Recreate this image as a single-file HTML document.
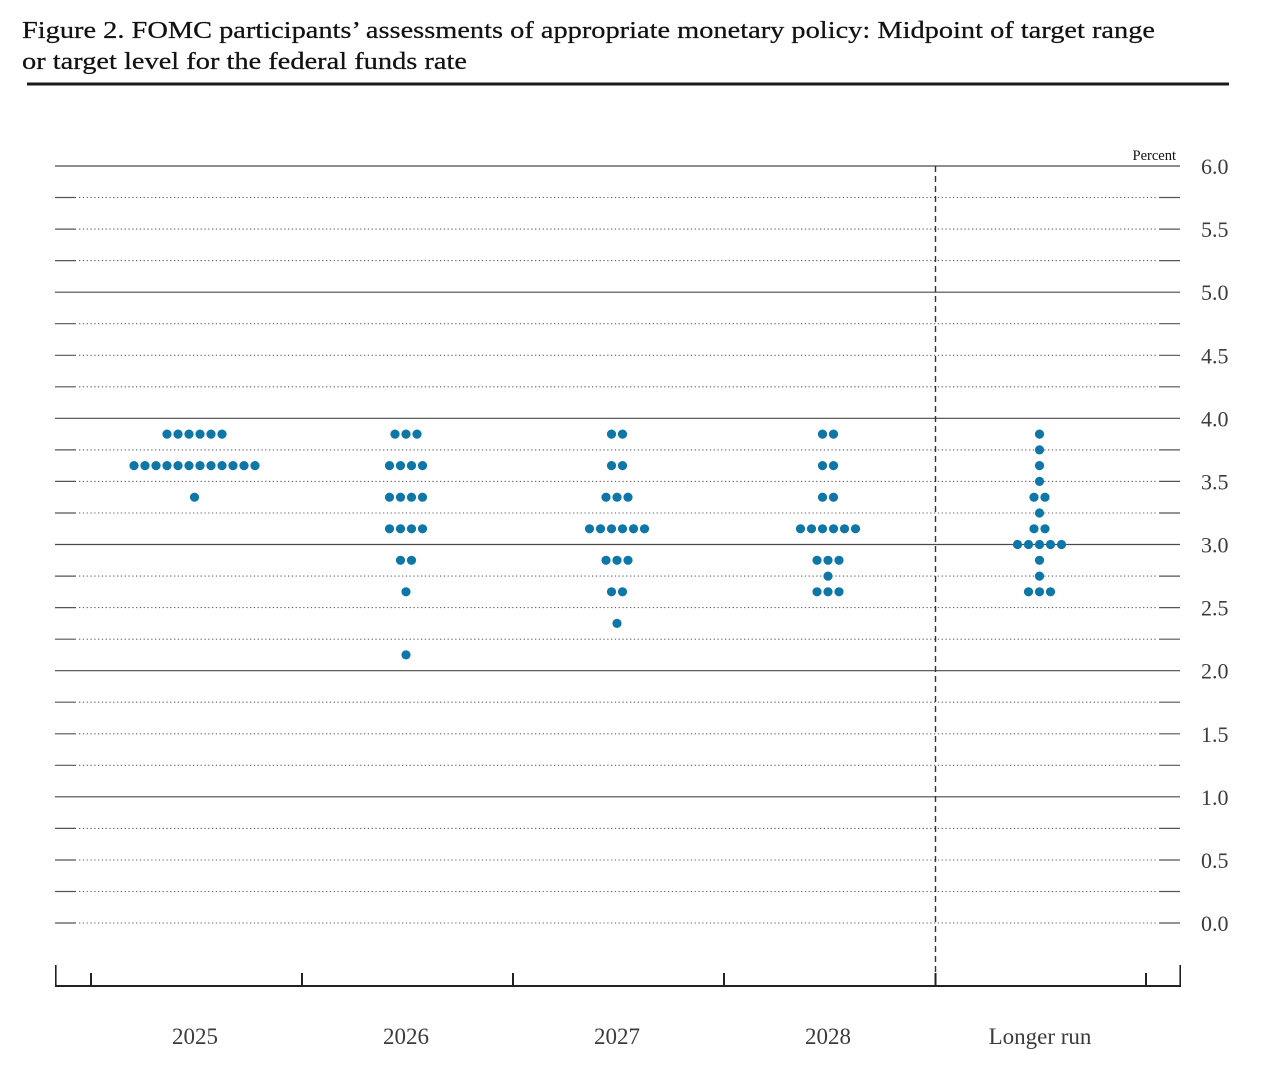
<!DOCTYPE html>
<html>
<head>
<meta charset="utf-8">
<style>
  html,body{margin:0;padding:0;background:#fff;}
  svg{display:block;}
  .t{font-family:"Liberation Serif",serif;}
</style>
</head>
<body>
<svg width="1280" height="1074" viewBox="0 0 1280 1074" xmlns="http://www.w3.org/2000/svg">
  <rect width="1280" height="1074" fill="#fff"/>
  <!-- Title -->
  <text class="t" x="22" y="38" font-size="24" fill="#111" stroke="#111" stroke-width="0.25" textLength="1133" lengthAdjust="spacingAndGlyphs">Figure 2. FOMC participants’ assessments of appropriate monetary policy: Midpoint of target range</text>
  <text class="t" x="22" y="69" font-size="24" fill="#111" stroke="#111" stroke-width="0.25" textLength="445" lengthAdjust="spacingAndGlyphs">or target level for the federal funds rate</text>
  <rect x="27" y="82.5" width="1202" height="3" fill="#1a1a1a"/>

  <!-- Percent label -->
  <text class="t" x="1176" y="160" font-size="14.5" fill="#111" text-anchor="end">Percent</text>

  <!-- Solid whole-number lines -->
  <g stroke="#4a4a4a" stroke-width="1.2">
    <line x1="55" y1="166" x2="1180" y2="166"/>
    <line x1="55" y1="292.2" x2="1180" y2="292.2"/>
    <line x1="55" y1="418.3" x2="1180" y2="418.3"/>
    <line x1="55" y1="544.5" x2="1180" y2="544.5"/>
    <line x1="55" y1="670.7" x2="1180" y2="670.7"/>
    <line x1="55" y1="796.8" x2="1180" y2="796.8"/>
  </g>

  <!-- Dotted lines -->
  <g stroke="#666" stroke-width="1.1" stroke-dasharray="1.3 2.5">
    <line x1="79" y1="197.5" x2="1157" y2="197.5"/>
    <line x1="79" y1="229.1" x2="1157" y2="229.1"/>
    <line x1="79" y1="260.6" x2="1157" y2="260.6"/>
    <line x1="79" y1="323.7" x2="1157" y2="323.7"/>
    <line x1="79" y1="355.3" x2="1157" y2="355.3"/>
    <line x1="79" y1="386.8" x2="1157" y2="386.8"/>
    <line x1="79" y1="449.9" x2="1157" y2="449.9"/>
    <line x1="79" y1="481.4" x2="1157" y2="481.4"/>
    <line x1="79" y1="513.0" x2="1157" y2="513.0"/>
    <line x1="79" y1="576.1" x2="1157" y2="576.1"/>
    <line x1="79" y1="607.6" x2="1157" y2="607.6"/>
    <line x1="79" y1="639.2" x2="1157" y2="639.2"/>
    <line x1="79" y1="702.2" x2="1157" y2="702.2"/>
    <line x1="79" y1="733.8" x2="1157" y2="733.8"/>
    <line x1="79" y1="765.3" x2="1157" y2="765.3"/>
    <line x1="79" y1="828.4" x2="1157" y2="828.4"/>
    <line x1="79" y1="860.0" x2="1157" y2="860.0"/>
    <line x1="79" y1="891.5" x2="1157" y2="891.5"/>
    <line x1="79" y1="923.0" x2="1157" y2="923.0"/>
  </g>

  <!-- Short ticks on dotted lines -->
  <g stroke="#555" stroke-width="1.2">
    <line x1="55" y1="197.5" x2="76" y2="197.5"/><line x1="1159" y1="197.5" x2="1180" y2="197.5"/>
    <line x1="55" y1="229.1" x2="76" y2="229.1"/><line x1="1159" y1="229.1" x2="1180" y2="229.1"/>
    <line x1="55" y1="260.6" x2="76" y2="260.6"/><line x1="1159" y1="260.6" x2="1180" y2="260.6"/>
    <line x1="55" y1="323.7" x2="76" y2="323.7"/><line x1="1159" y1="323.7" x2="1180" y2="323.7"/>
    <line x1="55" y1="355.3" x2="76" y2="355.3"/><line x1="1159" y1="355.3" x2="1180" y2="355.3"/>
    <line x1="55" y1="386.8" x2="76" y2="386.8"/><line x1="1159" y1="386.8" x2="1180" y2="386.8"/>
    <line x1="55" y1="449.9" x2="76" y2="449.9"/><line x1="1159" y1="449.9" x2="1180" y2="449.9"/>
    <line x1="55" y1="481.4" x2="76" y2="481.4"/><line x1="1159" y1="481.4" x2="1180" y2="481.4"/>
    <line x1="55" y1="513.0" x2="76" y2="513.0"/><line x1="1159" y1="513.0" x2="1180" y2="513.0"/>
    <line x1="55" y1="576.1" x2="76" y2="576.1"/><line x1="1159" y1="576.1" x2="1180" y2="576.1"/>
    <line x1="55" y1="607.6" x2="76" y2="607.6"/><line x1="1159" y1="607.6" x2="1180" y2="607.6"/>
    <line x1="55" y1="639.2" x2="76" y2="639.2"/><line x1="1159" y1="639.2" x2="1180" y2="639.2"/>
    <line x1="55" y1="702.2" x2="76" y2="702.2"/><line x1="1159" y1="702.2" x2="1180" y2="702.2"/>
    <line x1="55" y1="733.8" x2="76" y2="733.8"/><line x1="1159" y1="733.8" x2="1180" y2="733.8"/>
    <line x1="55" y1="765.3" x2="76" y2="765.3"/><line x1="1159" y1="765.3" x2="1180" y2="765.3"/>
    <line x1="55" y1="828.4" x2="76" y2="828.4"/><line x1="1159" y1="828.4" x2="1180" y2="828.4"/>
    <line x1="55" y1="860.0" x2="76" y2="860.0"/><line x1="1159" y1="860.0" x2="1180" y2="860.0"/>
    <line x1="55" y1="891.5" x2="76" y2="891.5"/><line x1="1159" y1="891.5" x2="1180" y2="891.5"/>
    <line x1="55" y1="923.0" x2="76" y2="923.0"/><line x1="1159" y1="923.0" x2="1180" y2="923.0"/>
  </g>

  <!-- Dashed vertical divider -->
  <line x1="935.5" y1="166" x2="935.5" y2="976" stroke="#333" stroke-width="1.4" stroke-dasharray="6 4"/>

  <!-- Bottom axis -->
  <g stroke="#222">
    <line x1="55" y1="986" x2="1181" y2="986" stroke-width="2"/>
    <line x1="55.8" y1="965" x2="55.8" y2="987" stroke-width="1.6"/>
    <line x1="1180.2" y1="965" x2="1180.2" y2="987" stroke-width="1.6"/>
    <line x1="91" y1="973" x2="91" y2="986" stroke-width="2"/>
    <line x1="302" y1="973" x2="302" y2="986" stroke-width="2"/>
    <line x1="513" y1="973" x2="513" y2="986" stroke-width="2"/>
    <line x1="724" y1="973" x2="724" y2="986" stroke-width="2"/>
    <line x1="935.5" y1="973" x2="935.5" y2="986" stroke-width="2"/>
    <line x1="1146" y1="973" x2="1146" y2="986" stroke-width="2"/>
  </g>

  <!-- Right axis labels -->
  <g class="t" font-size="22" fill="#3c3c3c">
    <text x="1201" y="174">6.0</text>
    <text x="1201" y="237.1">5.5</text>
    <text x="1201" y="300.2">5.0</text>
    <text x="1201" y="363.3">4.5</text>
    <text x="1201" y="426.3">4.0</text>
    <text x="1201" y="489.4">3.5</text>
    <text x="1201" y="552.5">3.0</text>
    <text x="1201" y="615.6">2.5</text>
    <text x="1201" y="678.7">2.0</text>
    <text x="1201" y="741.8">1.5</text>
    <text x="1201" y="804.8">1.0</text>
    <text x="1201" y="868.0">0.5</text>
    <text x="1201" y="931.0">0.0</text>
  </g>

  <!-- Bottom labels -->
  <g class="t" font-size="23" fill="#3c3c3c" text-anchor="middle">
    <text x="195" y="1044">2025</text>
    <text x="406" y="1044">2026</text>
    <text x="617" y="1044">2027</text>
    <text x="828" y="1044">2028</text>
    <text x="1040" y="1044">Longer run</text>
  </g>

  <!-- Dots -->
  <g fill="#0f76a8">
    <!-- 2025 -->
    <circle cx="167" cy="434.1" r="4.6"/><circle cx="178" cy="434.1" r="4.6"/><circle cx="189" cy="434.1" r="4.6"/><circle cx="200" cy="434.1" r="4.6"/><circle cx="211" cy="434.1" r="4.6"/><circle cx="222" cy="434.1" r="4.6"/>
    <circle cx="134" cy="465.6" r="4.6"/><circle cx="145" cy="465.6" r="4.6"/><circle cx="156" cy="465.6" r="4.6"/><circle cx="167" cy="465.6" r="4.6"/><circle cx="178" cy="465.6" r="4.6"/><circle cx="189" cy="465.6" r="4.6"/><circle cx="200" cy="465.6" r="4.6"/><circle cx="211" cy="465.6" r="4.6"/><circle cx="222" cy="465.6" r="4.6"/><circle cx="233" cy="465.6" r="4.6"/><circle cx="244" cy="465.6" r="4.6"/><circle cx="255" cy="465.6" r="4.6"/>
    <circle cx="194.5" cy="497.2" r="4.6"/>

    <!-- 2026 -->
    <circle cx="395" cy="434.1" r="4.6"/><circle cx="406" cy="434.1" r="4.6"/><circle cx="417" cy="434.1" r="4.6"/>
    <circle cx="389.5" cy="465.6" r="4.6"/><circle cx="400.5" cy="465.6" r="4.6"/><circle cx="411.5" cy="465.6" r="4.6"/><circle cx="422.5" cy="465.6" r="4.6"/>
    <circle cx="389.5" cy="497.2" r="4.6"/><circle cx="400.5" cy="497.2" r="4.6"/><circle cx="411.5" cy="497.2" r="4.6"/><circle cx="422.5" cy="497.2" r="4.6"/>
    <circle cx="389.5" cy="528.8" r="4.6"/><circle cx="400.5" cy="528.8" r="4.6"/><circle cx="411.5" cy="528.8" r="4.6"/><circle cx="422.5" cy="528.8" r="4.6"/>
    <circle cx="400.5" cy="560.3" r="4.6"/><circle cx="411.5" cy="560.3" r="4.6"/>
    <circle cx="406" cy="591.8" r="4.6"/>
    <circle cx="406" cy="654.9" r="4.6"/>

    <!-- 2027 -->
    <circle cx="611.5" cy="434.1" r="4.6"/><circle cx="622.5" cy="434.1" r="4.6"/>
    <circle cx="611.5" cy="465.6" r="4.6"/><circle cx="622.5" cy="465.6" r="4.6"/>
    <circle cx="606" cy="497.2" r="4.6"/><circle cx="617" cy="497.2" r="4.6"/><circle cx="628" cy="497.2" r="4.6"/>
    <circle cx="589.5" cy="528.8" r="4.6"/><circle cx="600.5" cy="528.8" r="4.6"/><circle cx="611.5" cy="528.8" r="4.6"/><circle cx="622.5" cy="528.8" r="4.6"/><circle cx="633.5" cy="528.8" r="4.6"/><circle cx="644.5" cy="528.8" r="4.6"/>
    <circle cx="606" cy="560.3" r="4.6"/><circle cx="617" cy="560.3" r="4.6"/><circle cx="628" cy="560.3" r="4.6"/>
    <circle cx="611.5" cy="591.8" r="4.6"/><circle cx="622.5" cy="591.8" r="4.6"/>
    <circle cx="617" cy="623.4" r="4.6"/>

    <!-- 2028 -->
    <circle cx="822.5" cy="434.1" r="4.6"/><circle cx="833.5" cy="434.1" r="4.6"/>
    <circle cx="822.5" cy="465.6" r="4.6"/><circle cx="833.5" cy="465.6" r="4.6"/>
    <circle cx="822.5" cy="497.2" r="4.6"/><circle cx="833.5" cy="497.2" r="4.6"/>
    <circle cx="800.5" cy="528.8" r="4.6"/><circle cx="811.5" cy="528.8" r="4.6"/><circle cx="822.5" cy="528.8" r="4.6"/><circle cx="833.5" cy="528.8" r="4.6"/><circle cx="844.5" cy="528.8" r="4.6"/><circle cx="855.5" cy="528.8" r="4.6"/>
    <circle cx="817" cy="560.3" r="4.6"/><circle cx="828" cy="560.3" r="4.6"/><circle cx="839" cy="560.3" r="4.6"/>
    <circle cx="828" cy="576.1" r="4.6"/>
    <circle cx="817" cy="591.8" r="4.6"/><circle cx="828" cy="591.8" r="4.6"/><circle cx="839" cy="591.8" r="4.6"/>

    <!-- Longer run -->
    <circle cx="1039.5" cy="434.1" r="4.6"/>
    <circle cx="1039.5" cy="449.9" r="4.6"/>
    <circle cx="1039.5" cy="465.6" r="4.6"/>
    <circle cx="1039.5" cy="481.4" r="4.6"/>
    <circle cx="1034" cy="497.2" r="4.6"/><circle cx="1045" cy="497.2" r="4.6"/>
    <circle cx="1039.5" cy="513.0" r="4.6"/>
    <circle cx="1034" cy="528.8" r="4.6"/><circle cx="1045" cy="528.8" r="4.6"/>
    <circle cx="1017.5" cy="544.5" r="4.6"/><circle cx="1028.5" cy="544.5" r="4.6"/><circle cx="1039.5" cy="544.5" r="4.6"/><circle cx="1050.5" cy="544.5" r="4.6"/><circle cx="1061.5" cy="544.5" r="4.6"/>
    <circle cx="1039.5" cy="560.3" r="4.6"/>
    <circle cx="1039.5" cy="576.1" r="4.6"/>
    <circle cx="1028.5" cy="591.8" r="4.6"/><circle cx="1039.5" cy="591.8" r="4.6"/><circle cx="1050.5" cy="591.8" r="4.6"/>
  </g>
</svg>
</body>
</html>
